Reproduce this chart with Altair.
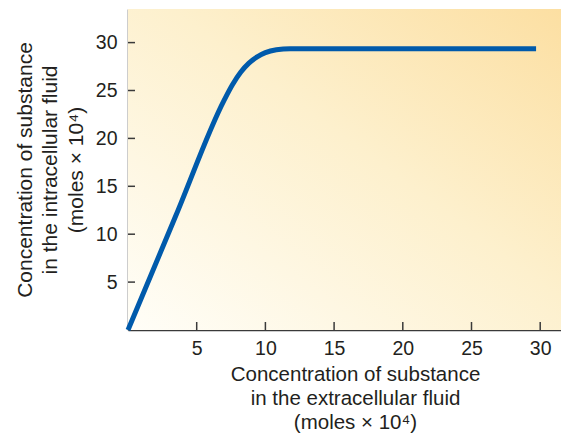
import altair as alt
import pandas as pd

# curve
x_vals = [0, 3.5, 7.0, 7.6, 8.2, 8.8, 9.4, 10.0, 10.8, 11.8, 29.7]
y_vals = [0, 12.0, 24.0, 25.6, 26.9, 27.85, 28.5, 28.95, 29.25, 29.36, 29.36]

x_ticks = [5, 10, 15, 20, 25, 30]
y_ticks = [5, 10, 15, 20, 25, 30]

x_title = ["Concentration of substance", "in the extracellular fluid", "(moles \u00d7 10\u2074)"]
y_title = ["Concentration of substance", "in the intracellular fluid", "(moles \u00d7 10\u2074)"]

W, H = 433, 321
XMAX = W / 13.74
YMAX = H / 9.58

df = pd.DataFrame({"x": x_vals, "y": y_vals})
xt = pd.DataFrame({"v": x_ticks})
yt = pd.DataFrame({"v": y_ticks})

FONT = "Liberation Sans"
TXT = "#231f20"
AX = "#3a3a3a"

xscale = alt.Scale(domain=[0, XMAX], nice=False, zero=False)
yscale = alt.Scale(domain=[0, YMAX], nice=False, zero=False)

bg = alt.Chart(alt.Data(values=[{"a": 1}])).mark_rect(
    fill=alt.LinearGradient(
        gradient="linear",
        x1=0, y1=1, x2=1, y2=0,
        stops=[
            alt.GradientStop(color="#fffef8", offset=0),
            alt.GradientStop(color="#fdf0cd", offset=0.55),
            alt.GradientStop(color="#fcdfa2", offset=1),
        ],
    ),
    strokeWidth=0,
).encode(x=alt.value(0), x2=alt.value(W), y=alt.value(0), y2=alt.value(H))

line = alt.Chart(df).mark_line(
    color="#005aab", strokeWidth=5, interpolate="monotone", strokeCap="butt"
).encode(
    x=alt.X("x:Q", scale=xscale,
            axis=alt.Axis(values=x_ticks, title=x_title, grid=False, ticks=False, tickSize=0,
                          labelPadding=9, titlePadding=7, domainColor=AX, domainWidth=1.5,
                          labelFontSize=19.5, titleFontSize=20.5, titleFontWeight="normal",
                          labelColor=TXT, titleColor=TXT, labelFont=FONT, titleFont=FONT,
                          titleLineHeight=24, titleX=227)),
    y=alt.Y("y:Q", scale=yscale,
            axis=alt.Axis(values=y_ticks, title=y_title, grid=False, ticks=False, tickSize=0,
                          labelPadding=11, titlePadding=9, domainColor=AX, domainWidth=1.5,
                          labelFontSize=19.5, titleFontSize=21, titleFontWeight="normal",
                          labelColor=TXT, titleColor=TXT, labelFont=FONT, titleFont=FONT,
                          titleLineHeight=25.5)),
)

xtick = alt.Chart(xt).mark_rule(color=AX, strokeWidth=1.5).encode(
    x=alt.X("v:Q", scale=xscale), y=alt.value(H), y2=alt.value(H - 8)
)
ytick = alt.Chart(yt).mark_rule(color=AX, strokeWidth=1.5).encode(
    y=alt.Y("v:Q", scale=yscale), x=alt.value(0), x2=alt.value(7)
)

chart = alt.layer(bg, xtick, ytick, line).properties(
    width=W, height=H,
    autosize=alt.AutoSizeParams(type="none"),
    padding={"left": 120, "top": 1, "right": 0, "bottom": 103},
).configure_view(stroke=None)

chart.save("out.html", embed_options={"renderer": "svg", "actions": False})
